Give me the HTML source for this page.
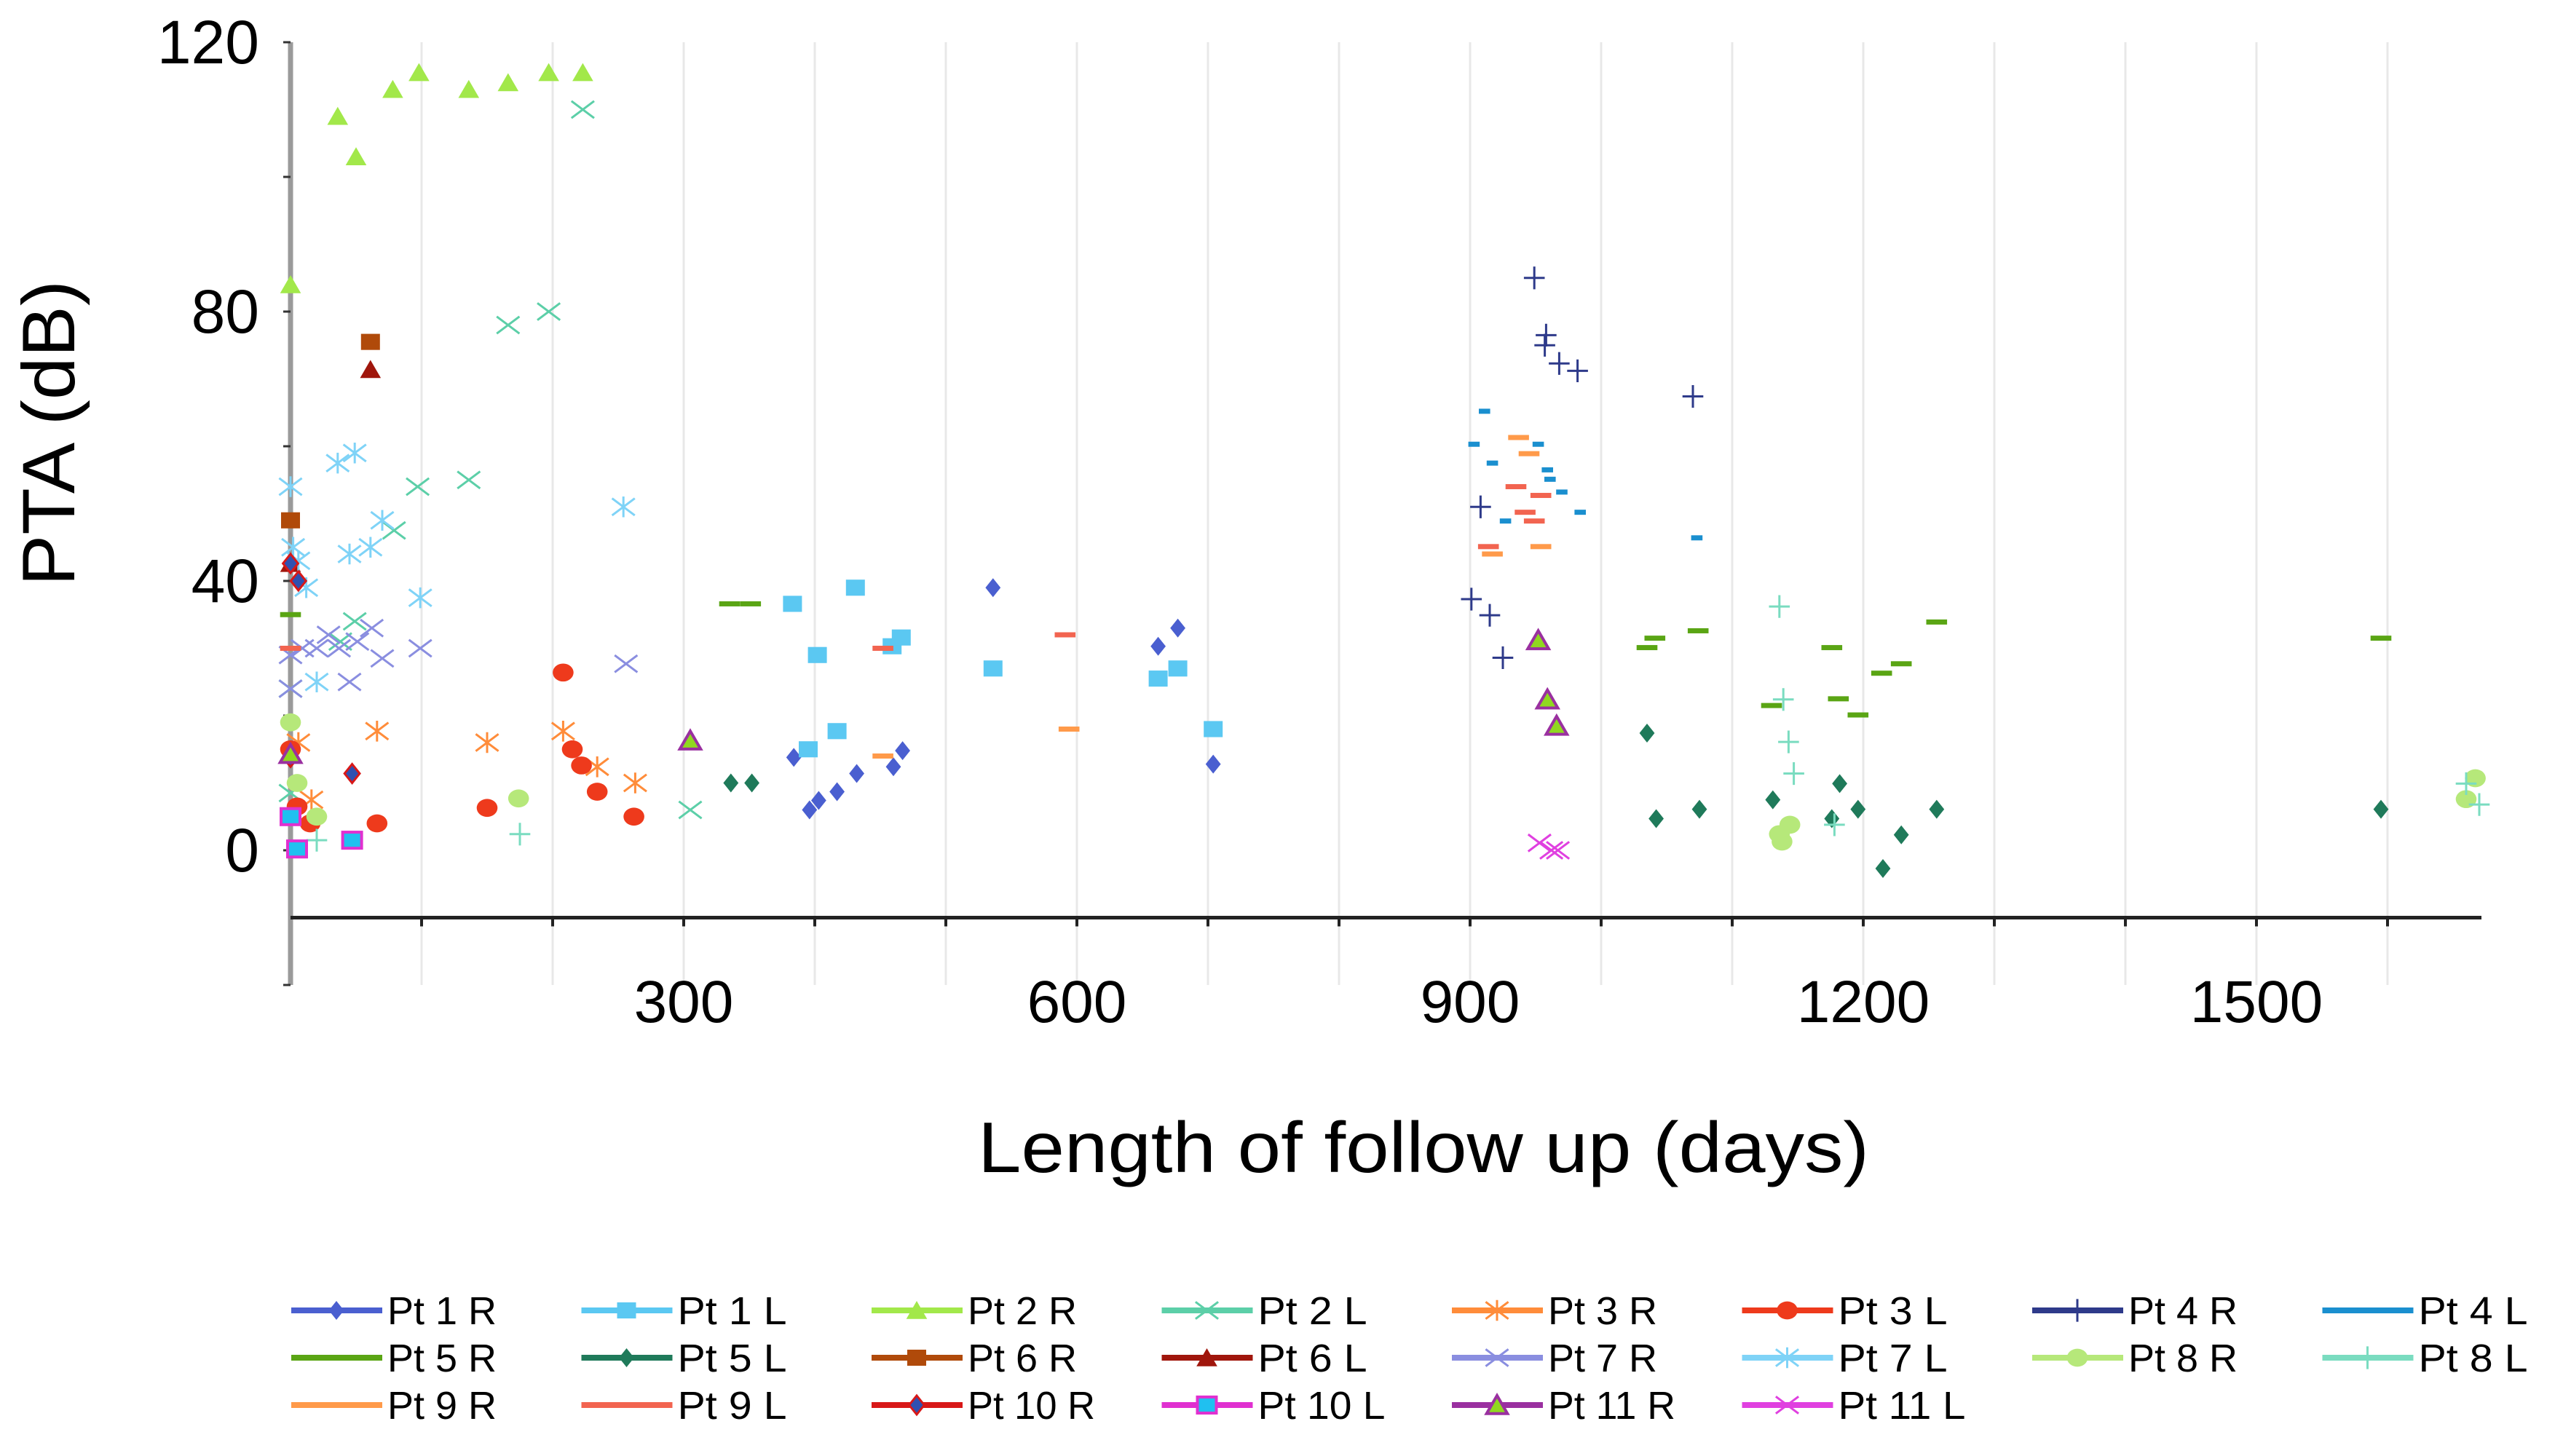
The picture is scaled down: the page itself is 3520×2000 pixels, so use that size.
<!DOCTYPE html>
<html><head><meta charset="utf-8"><style>
html,body{margin:0;padding:0;background:#fff;}
svg{display:block;font-family:"Liberation Sans",Arial,sans-serif;}
</style></head><body>
<svg id="chart" width="3520" height="2000" viewBox="0 0 3520 2000">
<g id="grid"></g>
<g id="axes"></g>
<g id="marks"></g>
<g id="legend"></g>
<text x="102" y="595" font-size="102" text-anchor="middle" textLength="420" lengthAdjust="spacingAndGlyphs" transform="rotate(-90 102 595)">PTA (dB)</text>
<text x="1955" y="1610" font-size="98" text-anchor="middle" textLength="1224" lengthAdjust="spacingAndGlyphs">Length of follow up (days)</text>
</svg>
<script>
const xTicks=[300,600,900,1200,1500];
const yTicks=[0,40,80,120];
const seriesNames=["Pt 1 R","Pt 1 L","Pt 2 R","Pt 2 L","Pt 3 R","Pt 3 L","Pt 4 R","Pt 4 L","Pt 5 R","Pt 5 L","Pt 6 R","Pt 6 L","Pt 7 R","Pt 7 L","Pt 8 R","Pt 8 L","Pt 9 R","Pt 9 L","Pt 10 R","Pt 10 L","Pt 11 R","Pt 11 L"];
const pt1R=[[384,13.8],[396,6],[403,7.4],[417,8.7],[432,11.4],[460,12.4],[467,14.8],[536,39],[662,30.3],[677,33],[704,12.8]];
const pt1L=[[0,5],[383,36.6],[402,29],[431,39],[459,30.3],[466,31.6],[395,15],[417,17.7],[536,27],[662,25.5],[677,27],[704,18]];
const pt2R=[[0,84],[36,109],[50,103],[78,113],[98,115.5],[136,113],[166,114],[197,115.5],[223,115.5]];
const pt2L=[[223,110],[166,78],[197,80],[136,55],[97,54],[79,47.5],[49,34],[38,31],[0,24],[0,8.5],[305,6]];
const pt3R=[[6,16],[16,7.5],[66,17.7],[150,16],[208,17.7],[234,12.4],[263,10]];
const pt3L=[[0,15],[5,6.5],[15,4],[66,4],[150,6.3],[208,26.4],[215,15],[222,12.6],[234,8.7],[262,5]];
const pt4R=[[949,85],[958,76.5],[957,75],[968,72.3],[982,71.2],[1070,67.4],[908,51],[901,37.3],[915,34.9],[925,28.6]];
const pt4L=[[911,65.2],[903,60.3],[917,57.5],[952,60.3],[959,56.5],[961,55.1],[970,53.2],[984,50.2],[927,48.9],[1073,46.4]];
const pt5R=[[0,35],[335,36.6],[351,36.6],[1035,30.1],[1041,31.5],[1074,32.6],[1130,21.5],[1176,30.1],[1181,22.5],[1196,20.1],[1214,26.3],[1229,27.7],[1256,33.9],[1595,31.5]];
const pt5L=[[336,10],[352,10],[1035,17.4],[1042,4.7],[1075,6.1],[1131,7.5],[1182,9.9],[1176,4.7],[1196,6.1],[1229,2.3],[1215,-2.7],[1256,6.1],[1595,6.1]];
const pt6R=[[0,49],[61,75.5]];
const pt6L=[[0,42.6],[61,71.4]];
const pt7R=[[0,29],[9,30],[20,30],[29,32],[37,30],[51,31],[62,33],[70,28.5],[99,30],[45,25],[256,27.7],[0,24]];
const pt7L=[[0,54],[36,57.5],[49,59],[70,49],[61,45],[45,44],[2,45],[6,43],[12,39],[99,37.5],[20,25],[254,51]];
const pt8R=[[0,19],[5,10],[20,5],[174,7.7],[1144,3.8],[1136,2.4],[1138,1.3],[1660,7.6],[1667,10.7]];
const pt8L=[[20,1.5],[175,2.4],[1136,36.2],[1139,22.4],[1143,16.1],[1147,11.4],[1178,3.8],[1660,9.9],[1670,6.8]];
const pt9R=[[452,14],[594,18],[937,61.3],[945,58.9],[917,44],[954,45.1]];
const pt9L=[[0,30],[452,30],[591,32],[935,54],[954,52.7],[942,50.2],[949,48.9],[914,45.1]];
const pt10R=[[0,42.6],[6,40],[47,11.4],[0,13.8]];
const pt10L=[[5,0.2],[47,1.5],[0,5]];
const pt11R=[[0,14.3],[305,16.3],[952,31.2],[959,22.4],[966,18.5]];
const pt11L=[[953,1.1],[962,0],[967,0]];

const X0=399, XS=1.8, Y0=1168, YS=9.25;
const sx=d=>X0+d*XS, sy=v=>Y0-v*YS;
const NS="http://www.w3.org/2000/svg";
function mk(tag,attrs,parent){const e=document.createElementNS(NS,tag);for(const k in attrs)e.setAttribute(k,attrs[k]);parent.appendChild(e);return e;}
const grid=document.getElementById('grid'),axes=document.getElementById('axes'),marks=document.getElementById('marks'),legend=document.getElementById('legend');
for(let d=100;d<=1600;d+=100){const l=mk('line',{x1:sx(d),x2:sx(d),y1:sy(120),y2:sy(-20),stroke:'#e8e8e8','stroke-width':3},grid);

}
const ya=mk('line',{x1:X0,x2:X0,y1:sy(120),y2:sy(-20),stroke:'#9a9a9a','stroke-width':7},axes);


for(let v=-20;v<=120;v+=20){const t=mk('line',{x1:X0-10,x2:X0,y1:sy(v),y2:sy(v),stroke:'#333','stroke-width':3},axes);

}
const xa=mk('line',{x1:X0,x2:3408,y1:sy(-10),y2:sy(-10),stroke:'#222','stroke-width':5},axes);


for(let d=100;d<=1600;d+=100){const t=mk('line',{x1:sx(d),x2:sx(d),y1:sy(-10),y2:sy(-10)+12,stroke:'#222','stroke-width':4},axes);

}
yTicks.forEach(v=>{const t=mk('text',{x:356,y:sy(v)+29,'font-size':84,'text-anchor':'end'},axes);t.textContent=v;

});
xTicks.forEach(d=>{const t=mk('text',{x:sx(d),y:1404,'font-size':82,'text-anchor':'middle'},axes);t.textContent=d;

});

function marker(g,type,x,y,c,c2){
 const s=13;
 if(type==='diamond')mk('polygon',{points:`${x},${y-s} ${x+s*0.8},${y} ${x},${y+s} ${x-s*0.8},${y}`,fill:c2||c,stroke:c2?c:'none','stroke-width':c2?3:0},g);
 else if(type==='square')mk('rect',{x:x-s,y:y-s*0.85,width:2*s,height:1.7*s,fill:c2||c,stroke:c2?c:'none','stroke-width':c2?4:0},g);
 else if(type==='triangle')mk('polygon',{points:`${x},${y-s} ${x+s*1.1},${y+s*0.9} ${x-s*1.1},${y+s*0.9}`,fill:c2||c,stroke:c2?c:'none','stroke-width':c2?4:0},g);
 else if(type==='circle')mk('ellipse',{cx:x,cy:y,rx:s*1.1,ry:s*0.95,fill:c},g);
 else if(type==='x')mk('path',{d:`M${x-s*1.2},${y-s*0.9}L${x+s*1.2},${y+s*0.9}M${x-s*1.2},${y+s*0.9}L${x+s*1.2},${y-s*0.9}`,stroke:c,'stroke-width':3,fill:'none'},g);
 else if(type==='star')mk('path',{d:`M${x-s*1.2},${y-s*0.9}L${x+s*1.2},${y+s*0.9}M${x-s*1.2},${y+s*0.9}L${x+s*1.2},${y-s*0.9}M${x},${y-s*1.1}L${x},${y+s*1.1}`,stroke:c,'stroke-width':3,fill:'none'},g);
 else if(type==='plus')mk('path',{d:`M${x-s*1.1},${y}L${x+s*1.1},${y}M${x},${y-s*1.2}L${x},${y+s*1.2}`,stroke:c,'stroke-width':3,fill:'none'},g);
 else if(type==='dash')mk('rect',{x:x-s*1.1,y:y-3.5,width:2.2*s,height:7,fill:c},g);
 else if(type==='sdash')mk('rect',{x:x-s*0.6,y:y-3.5,width:1.2*s,height:7,fill:c},g);
}
const series=[
 {d:pt1R,t:'diamond',c:'#4a5fd0'},{d:pt1L,t:'square',c:'#5bc8f2'},
 {d:pt2R,t:'triangle',c:'#a2e84a'},{d:pt2L,t:'x',c:'#5ccfa8'},
 {d:pt3R,t:'star',c:'#ff8c3a'},{d:pt3L,t:'circle',c:'#ee3a1c'},
 {d:pt4R,t:'plus',c:'#2e3a8a'},{d:pt4L,t:'sdash',c:'#1a8fcf'},
 {d:pt5R,t:'dash',c:'#5aa514'},{d:pt5L,t:'diamond',c:'#1f7a5a'},
 {d:pt6R,t:'square',c:'#b04a0a'},{d:pt6L,t:'triangle',c:'#a0160c'},
 {d:pt7R,t:'x',c:'#8a8ee0'},{d:pt7L,t:'star',c:'#7fd3f7'},
 {d:pt8R,t:'circle',c:'#b6e87a'},{d:pt8L,t:'plus',c:'#7adcc0'},
 {d:pt9R,t:'dash',c:'#ff9a4a'},{d:pt9L,t:'dash',c:'#f26450'},
 {d:pt10R,t:'diamond',c:'#d81818',c2:'#3050b0'},{d:pt10L,t:'square',c:'#e030d0',c2:'#20c0f0'},
 {d:pt11R,t:'triangle',c:'#9a30a0',c2:'#90d820'},{d:pt11L,t:'x',c:'#e040e0'}
];
series.forEach((s,i)=>{
 const g=mk('g',{},marks);
 
 
 s.d.forEach(p=>marker(g,s.t,sx(p[0]),sy(p[1]),s.c,s.c2));
 const col=i%8,row=Math.floor(i/8);
 const lx=400+col*398.5,ly=1800+row*65;
 const lg=mk('g',{},legend);
 
 
 mk('line',{x1:lx,x2:lx+125,y1:ly,y2:ly,stroke:s.c,'stroke-width':8},lg);
 if(!['dash'].includes(s.t))marker(lg,s.t==='sdash'?'dash':s.t,lx+62,ly,s.c,s.c2);
 const t=mk('text',{x:lx+132,y:ly+19,'font-size':54,textLength:(seriesNames[i].length*25),lengthAdjust:'spacingAndGlyphs'},lg);
 t.textContent=seriesNames[i];
});
</script>
</body></html>
